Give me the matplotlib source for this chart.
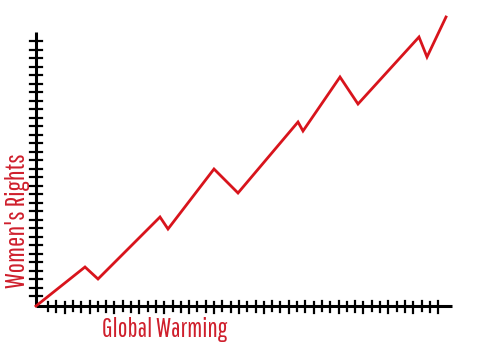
import matplotlib
matplotlib.use("Agg")
import matplotlib.pyplot as plt
import numpy as np

# values (arbitrary units, origin at the axes corner)
warming = [0, 49, 62, 124, 132, 178, 202, 262, 267, 304, 322, 383, 391, 410]
rights = [0, 39, 27, 89, 77, 137, 113, 184, 175, 229, 202, 269, 249, 289]
xlabel = 'Global Warming'
ylabel = "Women's Rights"

red = '#d8141c'
label_red = '#cf1f2c'
font = ['Pathway Gothic One', 'DejaVu Sans']

fig = plt.figure(figsize=(5, 3.57), dpi=100)
ax = fig.add_axes([0, 0, 1, 1])
ax.set_xlim(-36, 464)
ax.set_ylim(-51, 306)

ax.plot(warming, rights, color=red, lw=2, solid_joinstyle='miter', zorder=3)

# hand drawn looking axes
ax.plot([0, 416], [0, 0], color='black', lw=2.2, solid_capstyle='butt')
ax.plot([0, 0], [0, 274], color='black', lw=2.2, solid_capstyle='butt')

xt = np.arange(12, 408, 8.3)
for i, x in enumerate(xt):
    lo = -5 - (i % 3)
    hi = 4 + (i % 2)
    ax.plot([x, x], [lo, hi], color='black', lw=1.6)
yt = np.arange(10, 266, 8.5)
for i, y in enumerate(yt):
    ax.plot([-6, 6], [y, y], color='black', lw=1.6)

ax.text(66, -31, xlabel, color=label_red, fontsize=18.5, family=font,
        ha='left', va='baseline')
ax.text(-11, 18, ylabel, color=label_red, fontsize=19.5, family=font,
        rotation=90, rotation_mode='anchor', ha='left', va='baseline')

ax.axis('off')
fig.savefig('out.png', dpi=100)
